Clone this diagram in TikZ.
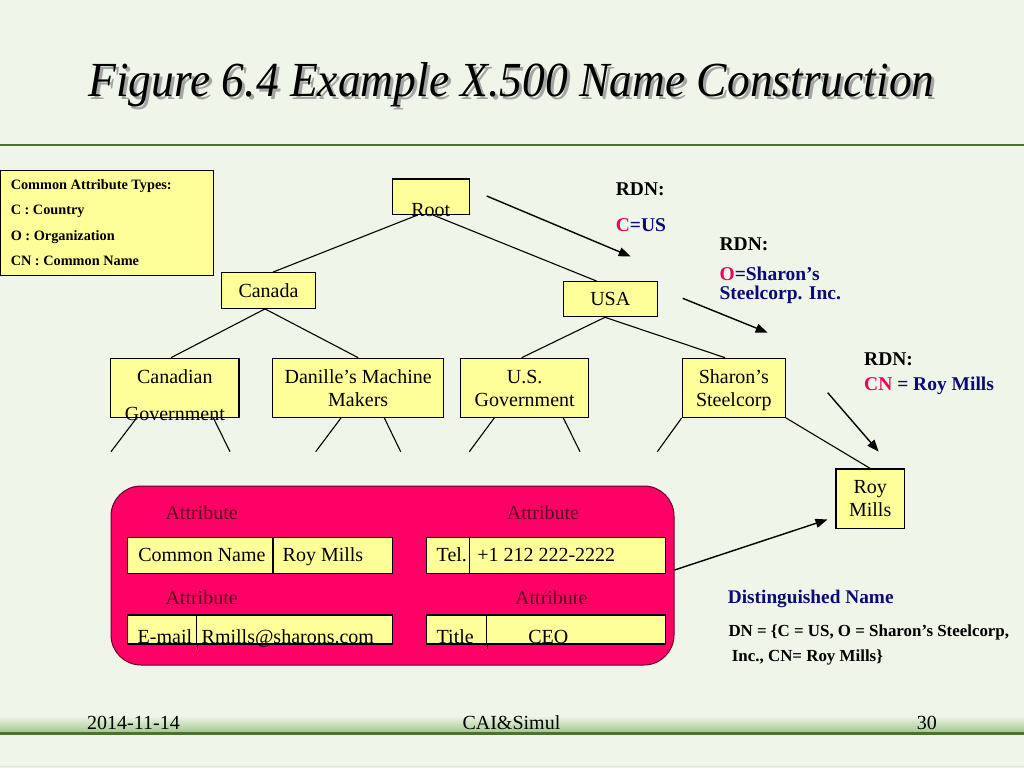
\documentclass[tikz,border=0pt]{standalone}
\usepackage{fontspec}
\setmainfont{Liberation Serif}
\usepackage{graphicx}
\usetikzlibrary{arrows.meta}
\definecolor{bg}{RGB}{239,245,232}
\definecolor{yel}{RGB}{255,255,153}
\definecolor{pinkc}{RGB}{255,0,102}
\definecolor{maroon}{RGB}{90,0,28}
\definecolor{navy}{RGB}{10,10,120}
\definecolor{redc}{RGB}{240,0,90}
\definecolor{greenl}{RGB}{75,115,45}
\definecolor{footg}{RGB}{160,198,135}
\definecolor{shadowc}{RGB}{165,165,165}
% centered content box: width, lowering, text
\newcommand\bxc[3]{\raisebox{-#2pt}[0pt][0pt]{\makebox[#1pt]{#3}}}
% left content box: width, pad, lowering, text
\newcommand\bxt[4]{\raisebox{-#3pt}[0pt][0pt]{\makebox[#1pt][l]{\hspace{#2pt}#4}}}
\newcommand\twol[3][0pt]{\begin{tabular}[t]{@{}c@{}}#2\\[#1]#3\end{tabular}}
\newcommand\titletext{\resizebox{846pt}{\height}{\fontsize{49}{52}\selectfont\itshape Figure 6.4 Example X.500 Name Construction}}
\tikzset{
  tbox/.style={draw=black, line width=1.2pt, fill=yel, inner sep=0pt, font=\fontsize{20}{23.4}\selectfont},
  cell/.style={draw=black, line width=1.1pt, fill=yel, inner sep=0pt, font=\fontsize{20}{23.4}\selectfont},
  tline/.style={line width=1.1pt, black},
  arr/.style={line width=1.4pt, -{Triangle[length=12pt,width=9pt]}},
  rdn/.style={anchor=base west, inner sep=0pt, font=\bfseries\fontsize{19.5}{22}\selectfont},
  attrlbl/.style={anchor=base west, inner sep=0pt, text=maroon, font=\fontsize{20}{23}\selectfont},
  foot/.style={inner sep=0pt, font=\fontsize{20}{23}\selectfont}
}
\begin{document}
\begin{tikzpicture}[x=1pt,y=-1pt]
\useasboundingbox (0,0) rectangle (1024,768);
\fill[bg] (0,0) rectangle (1024,768);
% title with drop shadow (one node)
\node[anchor=base, inner sep=0pt] (title) at (511.5,96.7)
  {\makebox[0pt][l]{\raisebox{-2.8pt}[0pt][0pt]{\hspace{3pt}\textcolor{shadowc}{\titletext}}}\titletext};
\draw[greenl, line width=2.8pt] (0,145) -- (1024,145);
% footer
\shade[top color=bg, bottom color=footg] (0,716) rectangle (1024,733);
\draw[greenl, line width=3pt] (0,733.3) -- (1024,733.3);
\draw[black!12, line width=1pt] (0,766) -- (1024,766);
\node[foot, anchor=base west] (fdate) at (87,729.3) {2014-11-14};
\node[foot, anchor=base] (fmid) at (511.4,729.3) {CAI\&Simul};
\node[foot, anchor=base west] (fpage) at (916.7,729.3) {30};
% legend
\node[draw=black, line width=1.3pt, fill=yel, inner sep=0pt, minimum height=105pt,
      font=\bfseries\fontsize{14.3}{25.5}\selectfont] (legend) at (106.7,223.2)
  {\bxt{213.3}{10.7}{-33.9}{\begin{tabular}[t]{@{}l@{}}Common Attribute Types:\\C : Country\\O : Organization\\CN : Common Name\end{tabular}}};
% tree nodes
\node[tbox, minimum height=35.3pt] (root) at (430.8,196.7) {\bxc{77}{20}{Root}};
\node[tbox, minimum height=35.6pt] (canada) at (268.5,290.5) {\bxc{93.6}{7.2}{Canada}};
\node[tbox, minimum height=35pt] (usa) at (610.3,299.2) {\bxc{94}{5.8}{USA}};
\node[tbox, minimum height=59pt] (cangov) at (174.85,387.8) {\bxc{128.3}{-4.5}{\twol[13.3pt]{Canadian}{Government}}};
\node[tbox, minimum height=59pt] (danille) at (358.2,387.8) {\bxc{171}{-4.5}{\twol{Danille’s Machine}{Makers}}};
\node[tbox, minimum height=59pt] (usgov) at (524.7,387.8) {\bxc{128}{-4.5}{\twol{U.S.}{Government}}};
\node[tbox, minimum height=59pt] (sharon) at (733.8,387.8) {\bxc{103}{-4.5}{\twol{Sharon’s}{Steelcorp}}};
\node[tbox, minimum height=59.3pt] (roy) at (870.2,498.7) {\bxc{68.3}{-5.4}{\twol{Roy}{Mills}}};
% tree connectors
\draw[tline] ([xshift=-13pt]root.south) -- ([xshift=4.5pt]canada.north);
\draw[tline] ([xshift=2pt]root.south) -- ([xshift=-13.6pt]usa.north);
\draw[tline] ([xshift=-3.5pt]canada.south) -- ([xshift=-3.85pt]cangov.north);
\draw[tline] ([xshift=-3.5pt]canada.south) -- (danille.north);
\draw[tline] ([xshift=-5.3pt]usa.south) -- ([xshift=-3pt]usgov.north);
\draw[tline] ([xshift=-5.3pt]usa.south) -- ([xshift=-8.8pt]sharon.north);
\draw[tline] (sharon.south east) -- (roy.north);
% dangling branches
\coordinate (c1) at (111,451.7);
\coordinate (c2) at (230,451.7);
\coordinate (d1) at (315.7,451.7);
\coordinate (d2) at (400.7,451.7);
\coordinate (u1) at (469.3,451.7);
\coordinate (u2) at (580,451.7);
\coordinate (s1) at (657.3,451.7);
\draw[tline] ([xshift=-38.2pt]cangov.south) -- (c1);
\draw[tline] ([xshift=38.5pt]cangov.south) -- (c2);
\draw[tline] ([xshift=-17.2pt]danille.south) -- (d1);
\draw[tline] ([xshift=26.1pt]danille.south) -- (d2);
\draw[tline] ([xshift=-30.4pt]usgov.south) -- (u1);
\draw[tline] ([xshift=38.6pt]usgov.south) -- (u2);
\draw[tline] (sharon.south west) -- (s1);
% RDN texts and arrows
\node[rdn] (rdn1) at (615.7,195) {RDN:};
\node[rdn] (rdn1v) at (615.7,231) {\textcolor{redc}{C}\textcolor{navy}{=US}};
\node[rdn] (rdn2) at (719.4,250) {RDN:};
\node[rdn] (rdn2v) at (719.4,280) {\textcolor{redc}{O}\textcolor{navy}{=Sharon’s}};
\node[rdn, text=navy] (rdn2w) at (719.4,299.5) {Steelcorp. Inc.};
\node[rdn] (rdn3) at (864,365) {RDN:};
\node[rdn] (rdn3v) at (864,390.7) {\textcolor{redc}{CN}\textcolor{navy}{\ = Roy Mills}};
\coordinate (a1s) at (486.7,196);
\coordinate (a1e) at (630.7,256.5);
\coordinate (a2s) at (682.7,298.3);
\coordinate (a2e) at (767.7,332.7);
\coordinate (a3s) at (827.7,392.7);
\coordinate (a3e) at (878.7,451.7);
\draw[arr] (a1s) -- (a1e);
\draw[arr] (a2s) -- (a2e);
\draw[arr] (a3s) -- (a3e);
% attribute panel
\node[draw=black!60!pinkc, line width=1pt, fill=pinkc, rounded corners=30pt,
      minimum width=563pt, minimum height=179pt, inner sep=0pt] (attrs) at (392.5,575.5) {};
\node[attrlbl] (at1) at (165.3,519.3) {Attribute};
\node[attrlbl] (at2) at (506.7,519.3) {Attribute};
\node[attrlbl] (at3) at (165.3,604) {Attribute};
\node[attrlbl] (at4) at (515,604) {Attribute};
\node[cell, minimum height=36pt] (cnk) at (200.35,555.3) {\bxt{145.3}{10.6}{6.4}{Common Name}};
\node[cell, minimum height=36pt] (cnv) at (332.85,555.3) {\bxt{119.7}{9.7}{6.4}{Roy Mills}};
\node[cell, minimum height=36pt] (telk) at (448,555.3) {\bxt{42.6}{10}{6.4}{Tel.}};
\node[cell, minimum height=36pt] (telv) at (567.5,555.3) {\bxt{196.4}{8}{6.4}{+1 212 222-2222}};
\node[cell, minimum height=29pt] (emk) at (162.2,629.5) {\bxt{69}{10}{13.8}{E-mail}};
\node[cell, minimum height=29pt] (emv) at (294.7,629.5) {\bxt{196}{5}{13.8}{Rmills@sharons.com}};
\node[cell, minimum height=29pt] (tik) at (456.7,629.5) {\bxt{60}{10}{13.8}{Title}};
\node[cell, minimum height=29pt] (tiv) at (576.2,629.5) {\bxt{179}{41.6}{13.8}{CEO}};
\draw[line width=1.1pt] (emk.south east) -- ++(0,4);
\draw[line width=1.1pt] (tik.south east) -- ++(0,4);
\coordinate (a4e) at (827.5,519.5);
\draw[arr] ([yshift=5.5pt]attrs.east) -- (a4e);
% distinguished name
\node[anchor=base west, inner sep=0pt, text=navy, font=\bfseries\fontsize{19.3}{21}\selectfont] (dnh) at (727.7,603.3) {Distinguished Name};
\node[anchor=base west, inner sep=0pt, font=\bfseries\fontsize{16.9}{19}\selectfont] (dn1) at (728.3,636.7) {DN = \{C = US, O = Sharon’s Steelcorp,};
\node[anchor=base west, inner sep=0pt, font=\bfseries\fontsize{16.9}{19}\selectfont] (dn2) at (731.7,661.7) {Inc., CN= Roy Mills\}};
\end{tikzpicture}
\end{document}
